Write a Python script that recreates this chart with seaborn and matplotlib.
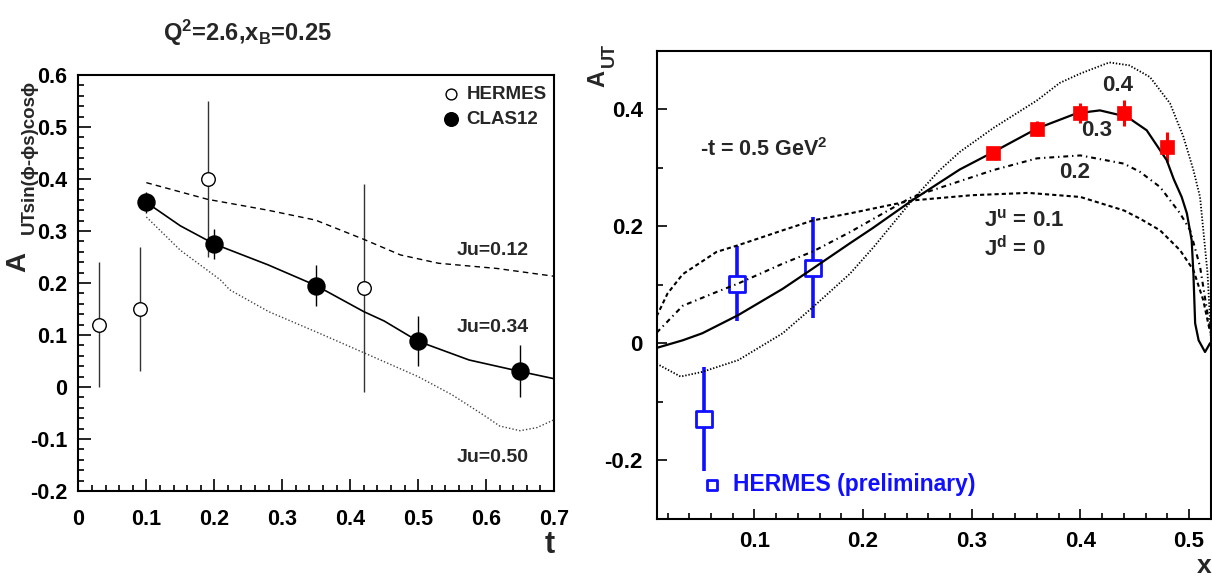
import matplotlib
matplotlib.use("Agg")
import matplotlib.pyplot as plt
from matplotlib.ticker import MultipleLocator, FuncFormatter
import seaborn as sns

# ---------------- left panel data ----------------
hermes_t = [0.03, 0.09, 0.19, 0.42]
hermes_a = [0.12, 0.15, 0.40, 0.19]
hermes_err = [0.12, 0.12, 0.15, 0.20]

clas_t = [0.10, 0.20, 0.35, 0.50, 0.65]
clas_a = [0.355, 0.275, 0.195, 0.088, 0.030]
clas_err = [0.020, 0.028, 0.040, 0.048, 0.050]

ju012_t = [0.10, 0.19, 0.279, 0.349, 0.42, 0.474, 0.53, 0.616, 0.70]
ju012_a = [0.393, 0.361, 0.340, 0.321, 0.284, 0.254, 0.238, 0.228, 0.213]

ju034_t = [0.10, 0.15, 0.20, 0.279, 0.35, 0.42, 0.45, 0.50, 0.575, 0.65, 0.70]
ju034_a = [0.355, 0.310, 0.275, 0.235, 0.195, 0.145, 0.127, 0.088, 0.052, 0.030, 0.016]

ju050_t = [0.10, 0.15, 0.209, 0.2226, 0.28, 0.35, 0.42, 0.50, 0.55, 0.60, 0.62, 0.65, 0.675, 0.70]
ju050_a = [0.327, 0.263, 0.206, 0.187, 0.145, 0.106, 0.066, 0.020, -0.015, -0.057, -0.075, -0.084, -0.078, -0.063]

# ---------------- right panel data ----------------
herm_x = [0.054, 0.084, 0.1535]
herm_y = [-0.129, 0.102, 0.129]
herm_err = [0.089, 0.064, 0.086]

red_x = [0.32, 0.36, 0.40, 0.44, 0.48]
red_y = [0.325, 0.367, 0.394, 0.393, 0.335]
red_err = [0.010, 0.013, 0.017, 0.022, 0.026]

j03_x = [0.01, 0.034, 0.052, 0.085, 0.126, 0.154, 0.188, 0.209, 0.245, 0.289, 0.32,
         0.36, 0.3965, 0.418, 0.443, 0.461, 0.4794, 0.486, 0.4932, 0.498, 0.5024,
         0.504, 0.5056, 0.5088, 0.5147, 0.5193]
j03_y = [-0.008, 0.005, 0.017, 0.048, 0.093, 0.128, 0.171, 0.197, 0.244, 0.297, 0.327,
         0.367, 0.393, 0.398, 0.387, 0.364, 0.313, 0.280, 0.250, 0.222, 0.176,
         0.119, 0.034, 0.005, -0.015, 0.000]

j01_x = [0.01, 0.02, 0.034, 0.065, 0.085, 0.126, 0.154, 0.188, 0.245, 0.30, 0.352,
         0.40, 0.44, 0.4548, 0.4733, 0.4917, 0.504, 0.513, 0.519]
j01_y = [0.046, 0.085, 0.118, 0.156, 0.1675, 0.193, 0.210, 0.222, 0.244, 0.253, 0.257,
         0.250, 0.227, 0.213, 0.193, 0.159, 0.125, 0.074, 0.022]

j02_x = [0.01, 0.034, 0.065, 0.085, 0.126, 0.154, 0.188, 0.245, 0.32, 0.36, 0.40,
         0.44, 0.4548, 0.4733, 0.4917, 0.501, 0.5101, 0.516, 0.52]
j02_y = [0.018, 0.064, 0.0875, 0.102, 0.136, 0.157, 0.190, 0.250, 0.296, 0.316, 0.321,
         0.307, 0.293, 0.267, 0.222, 0.193, 0.131, 0.062, 0.017]

j04_x = [0.01, 0.032, 0.052, 0.085, 0.126, 0.154, 0.188, 0.21, 0.245, 0.27, 0.289, 0.32, 0.36,
         0.381, 0.40, 0.4266, 0.445, 0.464, 0.4825, 0.4948, 0.504, 0.5101, 0.517,
         0.519, 0.52]
j04_y = [-0.035, -0.057, -0.049, -0.029, 0.017, 0.062, 0.119, 0.165, 0.244, 0.295, 0.327, 0.368, 0.415,
         0.445, 0.461, 0.480, 0.475, 0.455, 0.410, 0.353, 0.296, 0.250, 0.120,
         0.050, 0.010]

# ---------------- style ----------------
sns.set_style("white")
FONT = ["Liberation Sans", "DejaVu Sans"]
plt.rcParams["font.family"] = FONT
plt.rcParams["font.weight"] = "bold"
plt.rcParams["mathtext.fontset"] = "custom"
plt.rcParams["mathtext.rm"] = "Liberation Sans:bold"
plt.rcParams["mathtext.it"] = "Liberation Sans:bold"
plt.rcParams["mathtext.bf"] = "Liberation Sans:bold"
plt.rcParams["mathtext.sf"] = "Liberation Sans:bold"
plt.rcParams["lines.scale_dashes"] = False

fig = plt.figure(figsize=(12.12, 5.77), dpi=100)
fig.patch.set_facecolor("white")
axL = fig.add_axes([0.0647, 0.149, 0.3924, 0.721])
axR = fig.add_axes([0.5418, 0.1010, 0.4572, 0.8111])


def fmt(v, p):
    s = f"{round(v, 2):g}"
    return "0" if s in ("-0", "0") else s


for ax in (axL, axR):
    for sp in ax.spines.values():
        sp.set_linewidth(1.5)
        sp.set_color("black")
        sp.set_visible(True)
    ax.set_facecolor("white")
    ax.tick_params(which="both", direction="in", top=False, right=False,
                   left=True, bottom=True, colors="black", width=1.2)
    ax.xaxis.set_major_formatter(FuncFormatter(fmt))
    ax.yaxis.set_major_formatter(FuncFormatter(fmt))

# ---------------- left panel ----------------
axL.errorbar(hermes_t, hermes_a, yerr=hermes_err, fmt="none", ecolor="#333333",
             elinewidth=1.0, capsize=0, zorder=2)
axL.errorbar(clas_t, clas_a, yerr=clas_err, fmt="none", ecolor="black",
             elinewidth=1.0, capsize=0, zorder=2)

sns.lineplot(x=ju012_t, y=ju012_a, ax=axL, color="black", lw=1.0,
             linestyle=(0, (4, 3)), estimator=None, sort=False, zorder=3)
sns.lineplot(x=ju034_t, y=ju034_a, ax=axL, color="black", lw=1.2,
             estimator=None, sort=False, zorder=3)
sns.lineplot(x=ju050_t, y=ju050_a, ax=axL, color="#444444", lw=1.0,
             linestyle=(0, (1, 1.5)), estimator=None, sort=False, zorder=3)

sns.scatterplot(x=hermes_t, y=hermes_a, ax=axL, marker="o", s=95,
                facecolor="white", edgecolor="black", linewidth=1.0,
                zorder=4, label="HERMES")
sns.scatterplot(x=clas_t, y=clas_a, ax=axL, marker="o", s=150,
                color="black", edgecolor="black", linewidth=1.0,
                zorder=4, label="CLAS12")

axL.set_xlim(0, 0.7)
axL.set_ylim(-0.2, 0.6)
axL.xaxis.set_major_locator(MultipleLocator(0.1))
axL.xaxis.set_minor_locator(MultipleLocator(0.02))
axL.yaxis.set_major_locator(MultipleLocator(0.1))
axL.yaxis.set_minor_locator(MultipleLocator(0.02))
axL.tick_params(which="major", length=9)
axL.tick_params(which="minor", length=4.5)
axL.tick_params(axis="x", which="major", pad=13, labelsize=15.5)
axL.tick_params(axis="y", which="major", pad=8, labelsize=15.5)
axL.set_xlabel("")
axL.set_ylabel("")

leg = axL.legend(loc="upper right", bbox_to_anchor=(0.985, 0.975), frameon=False,
                 fontsize=13.5, markerscale=0.8, handlelength=0.8,
                 handletextpad=0.45, borderpad=0, borderaxespad=0, labelspacing=0.45)
for t in leg.get_texts():
    t.set_fontweight("bold")

axL.text(0.61, 0.263, "Ju=0.12", ha="center", va="center", fontsize=14, fontweight="bold")
axL.text(0.61, 0.114, "Ju=0.34", ha="center", va="center", fontsize=14, fontweight="bold")
axL.text(0.61, -0.135, "Ju=0.50", ha="center", va="center", fontsize=14, fontweight="bold")

fig.text(247 / 1212, 1 - 33 / 577, r"Q$^2$=2.6,x$_B$=0.25",
         ha="center", va="center", fontsize=17, fontweight="bold")
# rotated y label of the left panel: big "A" and its long subscript
fig.text(25 / 1212, 1 - 272 / 577, "A", rotation=90, rotation_mode="anchor",
         ha="left", va="baseline", fontsize=20, fontweight="bold")
fig.text(34 / 1212, 1 - 80 / 577, "UTsin(\u03d5-\u03d5s)cos\u03d5", rotation=90,
         rotation_mode="anchor", ha="right", va="baseline", fontsize=13.5,
         fontweight="bold")
fig.text(550 / 1212, 1 - 545 / 577, "t", ha="center", va="center",
         fontsize=22, fontweight="bold")

# ---------------- right panel ----------------
axR.errorbar(herm_x, herm_y, yerr=herm_err, fmt="none", ecolor="#1010ff",
             elinewidth=2.6, capsize=0, zorder=2)
axR.errorbar(red_x, red_y, yerr=red_err, fmt="none", ecolor="#ff0000",
             elinewidth=2.2, capsize=0, zorder=2)

sns.scatterplot(x=herm_x, y=herm_y, ax=axR, marker="s", s=120,
                facecolor="white", edgecolor="#1010ff", linewidth=2.0, zorder=3,
                label="HERMES (preliminary)")

sns.lineplot(x=j01_x, y=j01_y, ax=axR, color="black", lw=1.5,
             linestyle=(0, (3, 2.2)), estimator=None, sort=False, zorder=4)
sns.lineplot(x=j02_x, y=j02_y, ax=axR, color="black", lw=1.5,
             linestyle=(0, (3.5, 2.8, 1, 2.8)), estimator=None, sort=False, zorder=4)
sns.lineplot(x=j03_x, y=j03_y, ax=axR, color="black", lw=1.6,
             estimator=None, sort=False, zorder=4)
sns.lineplot(x=j04_x, y=j04_y, ax=axR, color="black", lw=1.3,
             linestyle=(0, (1, 1.3)), estimator=None, sort=False, zorder=4)

sns.scatterplot(x=red_x, y=red_y, ax=axR, marker="s", s=110,
                color="#ff0000", edgecolor="#ff0000", linewidth=0.5, zorder=5)

axR.set_xlim(0.01, 0.52)
axR.set_ylim(-0.3, 0.5)
axR.xaxis.set_major_locator(MultipleLocator(0.1))
axR.xaxis.set_minor_locator(MultipleLocator(0.02))
axR.yaxis.set_major_locator(MultipleLocator(0.2))
axR.yaxis.set_minor_locator(MultipleLocator(0.1))
axR.tick_params(which="major", length=7)
axR.tick_params(which="minor", length=4)
axR.tick_params(axis="x", which="major", pad=9, labelsize=16)
axR.tick_params(axis="y", which="major", pad=10, labelsize=16)
axR.set_xlabel("")
axR.set_ylabel("")

legR = axR.legend(loc="center left", bbox_to_anchor=(0.079, 0.074), frameon=False,
                  fontsize=16.5, markerscale=0.65, handlelength=1.0,
                  handletextpad=0.42, borderpad=0, borderaxespad=0)
for t in legR.get_texts():
    t.set_color("#1010ff")
    t.set_fontweight("bold")

axR.text(0.05, 0.32, r"-t = 0.5 GeV$^2$", ha="left", va="baseline",
         fontsize=15.5, fontweight="bold")
axR.text(0.4346, 0.44, "0.4", ha="center", va="center", fontsize=16, fontweight="bold")
axR.text(0.4147, 0.363, "0.3", ha="center", va="center", fontsize=16, fontweight="bold")
axR.text(0.395, 0.292, "0.2", ha="center", va="center", fontsize=16, fontweight="bold")
axR.text(0.311, 0.199, r"J$^u$ = 0.1", ha="left", va="baseline", fontsize=16, fontweight="bold")
axR.text(0.311, 0.149, r"J$^d$ = 0", ha="left", va="baseline", fontsize=16, fontweight="bold")

fig.text(598 / 1212, 1 - 87 / 577, "A", rotation=90, ha="center", va="bottom",
         fontsize=17, fontweight="bold")
fig.text(609 / 1212, 1 - 67 / 577, "UT", rotation=90, ha="center", va="bottom",
         fontsize=13, fontweight="bold")
fig.text(1204 / 1212, 1 - 566 / 577, "x", ha="center", va="center",
         fontsize=19, fontweight="bold")

fig.savefig("out.png", dpi=100, facecolor="white")
